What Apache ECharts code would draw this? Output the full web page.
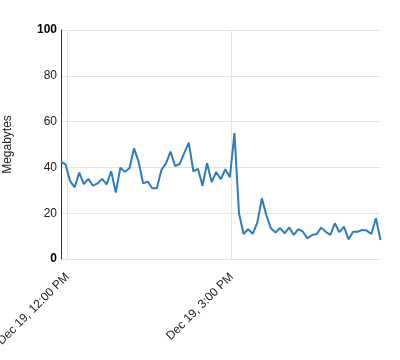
<!DOCTYPE html>
<html>
<head>
<meta charset="utf-8">
<script src="https://cdn.jsdelivr.net/npm/echarts@6/dist/echarts.min.js"></script>
<style>html,body{margin:0;padding:0;background:#fff}#c{width:400px;height:360px}</style>
</head>
<body>
<div id="c"></div>
<script>
// Data: one sample every 5 minutes; x is minutes after Dec 19, 12:00 PM (first sample 11:53 AM)
var startMinute = -7;
var stepMinutes = 5;
var megabytes = [
  42.5, 41.3, 34, 31.3, 37.7, 32.7, 35, 32, 33, 35,
  32.6, 38.3, 29, 39.9, 38.1, 39.6, 48.3, 42.5, 33, 33.8,
  30.9, 30.9, 38.9, 41.8, 46.9, 40.6, 41.5, 46.2, 50.8, 38.3,
  39.4, 32, 41.8, 33.6, 38, 34.8, 39.2, 35.7, 55, 20,
  10.9, 13, 11, 15.8, 26.5, 19, 13.4, 11.6, 13.5, 11.2,
  13.8, 10.5, 13, 11.9, 9, 10.5, 10.9, 13.7, 11.9, 10.5,
  15.6, 11.7, 14.1, 8.6, 11.9, 11.9, 12.7, 12.4, 10.9, 17.8,
  8.3
];
var tickMinutes = [0, 180];
var tickLabels = ['Dec 19, 12:00 PM', 'Dec 19, 3:00 PM'];
var yTicks = [0, 20, 40, 60, 80, 100];

var seriesData = megabytes.map(function (v, i) {
  return [startMinute + i * stepMinutes, v];
});

var FONT = 'Liberation Sans, Arial, sans-serif';
var chart = echarts.init(document.getElementById('c'), null, {renderer: 'canvas'});
chart.setOption({
  animation: false,
  grid: {left: 61, right: 19.5, top: 30, bottom: 101, containLabel: false, outerBoundsMode: 'none'},
  xAxis: {
    type: 'value',
    min: seriesData[0][0],
    max: seriesData[seriesData.length - 1][0],
    axisLine: {show: false},
    axisTick: {show: false, customValues: tickMinutes},
    axisLabel: {
      customValues: tickMinutes,
      rotate: 45,
      margin: 16,
      fontFamily: FONT,
      fontSize: 12,
      color: '#222',
      formatter: function (v) {
        var i = tickMinutes.indexOf(v);
        return i >= 0 ? tickLabels[i] : '';
      }
    },
    splitLine: {show: true, lineStyle: {color: '#e3e3e3', width: 1}}
  },
  yAxis: {
    type: 'value',
    min: yTicks[0],
    max: yTicks[yTicks.length - 1],
    interval: 20,
    name: 'Megabytes',
    nameLocation: 'middle',
    nameRotate: 90,
    nameGap: 47,
    nameTextStyle: {fontFamily: FONT, fontSize: 12, color: '#222'},
    axisLine: {show: true, onZero: false, lineStyle: {color: '#333', width: 1}},
    axisTick: {show: false},
    axisLabel: {
      margin: 4,
      fontFamily: FONT,
      fontSize: 12,
      color: '#222',
      formatter: function (v) {
        return (v === yTicks[0] || v === yTicks[yTicks.length - 1]) ? '{b|' + v + '}' : '{n|' + v + '}';
      },
      rich: {
        b: {fontWeight: 'bold', color: '#000', fontSize: 12, fontFamily: FONT},
        n: {color: '#222', fontSize: 12, fontFamily: FONT}
      }
    },
    splitLine: {show: true, lineStyle: {color: '#e3e3e3', width: 1}}
  },
  series: [{
    type: 'line',
    data: seriesData,
    showSymbol: false,
    symbol: 'none',
    lineStyle: {color: '#2e7bbf', width: 2},
    itemStyle: {color: '#2e7bbf'}
  }]
});
</script>
</body>
</html>
